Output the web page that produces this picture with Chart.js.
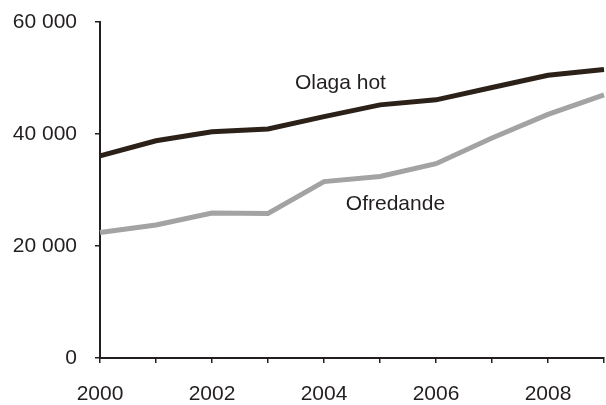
<!DOCTYPE html>
<html>
<head>
<meta charset="utf-8">
<script src="https://cdn.jsdelivr.net/npm/chart.js@4/dist/chart.umd.min.js"></script>
<style>
    html, body { margin: 0; padding: 0; background: #ffffff; }
    canvas { display: block; }
</style>
</head>
<body>
<canvas id="lineChart" width="606" height="405"></canvas>
<script>
// Years on the x axis
const years = ["2000", "2001", "2002", "2003", "2004", "2005", "2006", "2007", "2008", "2009"];
// Series values
const olagaHot = [36100, 38800, 40400, 40900, 43100, 45200, 46100, 48300, 50500, 51500];
const ofredande = [22400, 23750, 25900, 25800, 31500, 32400, 34700, 39300, 43500, 47000];
// Tick values on the y axis
const yTicks = [0, 20000, 40000, 60000];

const textColor = "#231f20";

// draws the series names next to the lines
const seriesLabels = {
    id: "seriesLabels",
    afterDatasetsDraw(chart, args, opts) {
        const ctx = chart.ctx;
        ctx.save();
        ctx.font = opts.font;
        ctx.fillStyle = opts.color;
        ctx.textAlign = "left";
        ctx.textBaseline = "alphabetic";
        opts.items.forEach((item, i) => {
            const x = chart.scales.x.getPixelForValue(item.x);
            const y = chart.scales.y.getPixelForValue(item.y);
            ctx.fillText(chart.data.datasets[i].label, x, y);
        });
        ctx.restore();
    }
};

class TrendChart {
    chart = null;
    data = {
        labels: years,
        datasets: [
            {
                label: "Olaga hot",
                data: olagaHot,
                borderColor: "#2b2118",
                borderWidth: 5,
                pointRadius: 0,
                tension: 0,
                fill: false
            },
            {
                label: "Ofredande",
                data: ofredande,
                borderColor: "#a3a3a3",
                borderWidth: 5,
                pointRadius: 0,
                tension: 0,
                fill: false
            }
        ]
    };

    constructor() {
        this.config = {
            type: "line",
            data: this.data,
            plugins: [seriesLabels],
            options: {
                responsive: false,
                animation: false,
                devicePixelRatio: 1,
                layout: { padding: { top: 22, right: 2, left: 0, bottom: 0 } },
                plugins: {
                    legend: { display: false },
                    tooltip: { enabled: false },
                    seriesLabels: {
                        font: "21px 'Liberation Sans', Arial, sans-serif",
                        color: textColor,
                        items: [
                            { x: 3.48, y: 48000 },
                            { x: 4.39, y: 26400 }
                        ]
                    }
                },
                scales: {
                    x: {
                        type: "category",
                        offset: false,
                        afterFit: scale => {
                            scale.height = 47;
                            scale.paddingLeft = 0;
                            scale.paddingRight = 0;
                        },
                        border: { display: true, color: textColor, width: 2 },
                        grid: { drawOnChartArea: false, drawTicks: true, tickLength: 5, color: textColor, lineWidth: 1.5 },
                        ticks: {
                            autoSkip: false,
                            maxRotation: 0,
                            padding: 19,
                            color: textColor,
                            font: { family: "'Liberation Sans', Arial, sans-serif", size: 21 },
                            callback: (value, index) => index % 2 === 0 ? years[index] : ""
                        }
                    },
                    y: {
                        min: 0,
                        max: 60000,
                        afterFit: scale => {
                            scale.width = 100;
                            scale.paddingTop = 0;
                            scale.paddingBottom = 0;
                        },
                        afterBuildTicks: scale => { scale.ticks = yTicks.map(v => ({ value: v })); },
                        border: { display: true, color: textColor, width: 2 },
                        grid: { drawOnChartArea: false, drawTicks: true, tickLength: 5, color: textColor, lineWidth: 1.5 },
                        ticks: {
                            padding: 18,
                            color: textColor,
                            font: { family: "'Liberation Sans', Arial, sans-serif", size: 21 },
                            callback: value => String(value).replace(/\B(?=(\d{3})+(?!\d))/g, " ")
                        }
                    }
                }
            }
        };
        this.chart = new Chart(document.getElementById("lineChart"), this.config);
    }
}

window.addEventListener("load", () => {
    new TrendChart();
});
</script>
</body>
</html>
